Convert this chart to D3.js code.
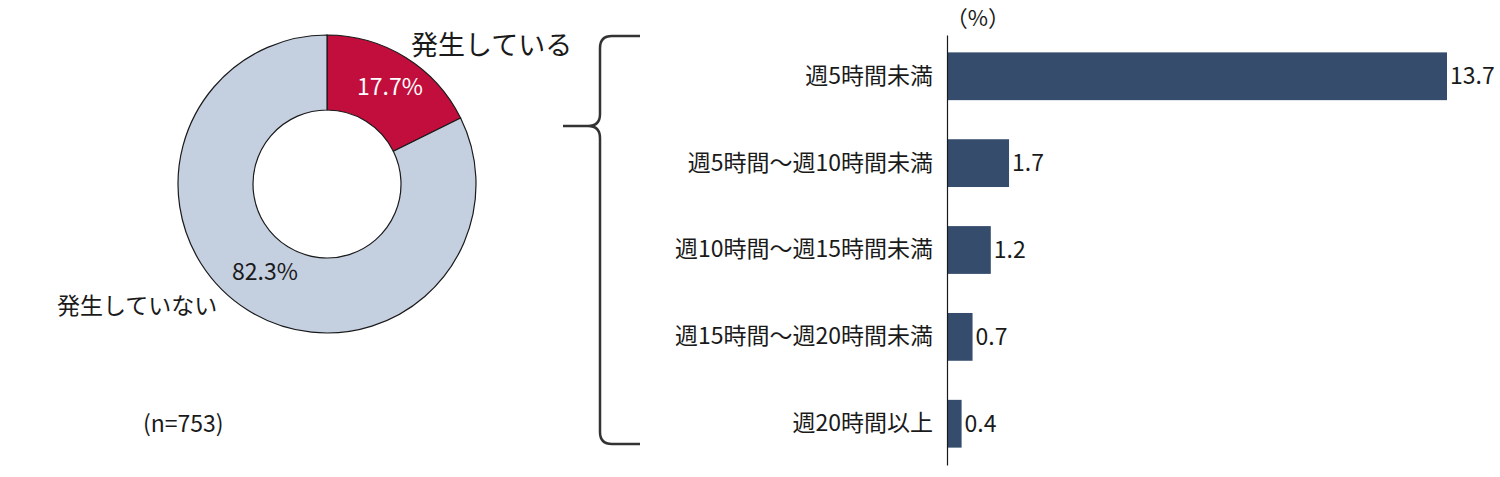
<!DOCTYPE html>
<html>
<head>
<meta charset="utf-8">
<script src="https://cdn.jsdelivr.net/npm/d3@7"></script>
<style>
  html, body { margin: 0; padding: 0; background: #fff; }
  svg text { font-family: "Noto Sans CJK JP", "Noto Sans", sans-serif; fill: #1a1a1a; }
</style>
</head>
<body>
<svg id="chart" width="1500" height="477"></svg>
<script>
// donut data
const pieLabels = ['発生している', '発生していない'];
const pieValues = [17.7, 82.3];
const pieColors = ['#C20E3D', '#C4CFE0'];

// bar data
const barCategories = [
  '週5時間未満',
  '週5時間～週10時間未満',
  '週10時間～週15時間未満',
  '週15時間～週20時間未満',
  '週20時間以上'
];
const barValues = [13.7, 1.7, 1.2, 0.7, 0.4];

const svg = d3.select('#chart');

// ---- donut ----
const cx = 327, cy = 184, rOuter = 149, rInner = 74;
const pie = d3.pie().sort(null).value(d => d)(pieValues);
const arc = d3.arc().innerRadius(rInner).outerRadius(rOuter);
const gPie = svg.append('g').attr('transform', `translate(${cx},${cy})`);

gPie.selectAll('path')
  .data(pie)
  .enter().append('path')
  .attr('d', arc)
  .attr('fill', (d, i) => pieColors[i])
  .attr('stroke', '#1a1a1a')
  .attr('stroke-width', 1.2);

// percent labels
gPie.append('text')
  .attr('x', 63).attr('y', -89)
  .attr('text-anchor', 'middle')
  .attr('font-size', 23)
  .style('fill', '#fff')
  .text(pieValues[0].toFixed(1) + '%');

gPie.append('text')
  .attr('x', -62).attr('y', 96)
  .attr('text-anchor', 'middle')
  .attr('font-size', 23)
  .text(pieValues[1].toFixed(1) + '%');

svg.append('text')
  .attr('x', 411).attr('y', 55)
  .attr('font-size', 27)
  .text(pieLabels[0]);

svg.append('text')
  .attr('x', 57).attr('y', 314)
  .attr('font-size', 23)
  .text(pieLabels[1]);

svg.append('text')
  .attr('x', 143).attr('y', 432)
  .attr('font-size', 23)
  .text('(n=753)');

// ---- brace ----
svg.append('path')
  .attr('d', 'M640,36 L612,36 Q600,36 600,48 L600,114 Q600,126 588,126 L563,126 ' +
             'M588,126 Q600,126 600,138 L600,432 Q600,444 612,444 L640,444')
  .attr('fill', 'none')
  .attr('stroke', '#333')
  .attr('stroke-width', 2.5);

// ---- bars ----
const x0 = 947, yTop = 35, yBot = 465;
const x = d3.scaleLinear().domain([0, 13.7]).range([x0, 1447]);
const y = d3.scaleBand().domain(barCategories).range([yTop, yBot]).paddingInner(0.45).paddingOuter(0.2);

svg.append('g').selectAll('rect')
  .data(barValues)
  .enter().append('rect')
  .attr('x', x(0))
  .attr('y', (d, i) => y(barCategories[i]))
  .attr('width', d => x(d) - x(0))
  .attr('height', y.bandwidth())
  .attr('fill', '#354C6D');

svg.append('g').selectAll('text.val')
  .data(barValues)
  .enter().append('text')
  .attr('class', 'val')
  .attr('x', d => x(d) + 3)
  .attr('y', (d, i) => y(barCategories[i]) + y.bandwidth() / 2)
  .attr('dy', '0.35em')
  .attr('font-size', 23)
  .text(d => d.toFixed(1));

// category axis
const axis = d3.axisLeft(y).tickSize(0).tickPadding(14);
const gAxis = svg.append('g').attr('transform', `translate(${x0},0)`).call(axis);
gAxis.select('.domain').attr('stroke', '#1a1a1a').attr('stroke-width', 1.2);
gAxis.selectAll('text')
  .attr('font-size', 23)
  .style('font-family', '"Noto Sans CJK JP", sans-serif')
  .style('fill', '#1a1a1a');

svg.append('text')
  .attr('x', 978).attr('y', 26)
  .attr('text-anchor', 'middle')
  .attr('font-size', 22)
  .text('（%）');
</script>
</body>
</html>
